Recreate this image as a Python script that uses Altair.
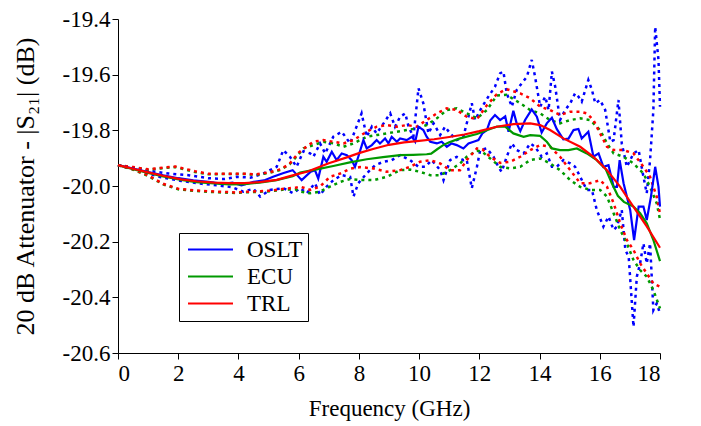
import altair as alt
import pandas as pd

# ---------------- data ----------------
oslt_f = [0, 0.5, 1.0, 1.5, 2.0, 2.5, 3.0, 3.5, 3.8, 4.1, 4.5, 4.85, 5.15, 5.5, 5.8, 6.1, 6.4,
          6.54, 6.65, 6.82, 6.93, 7.10, 7.26, 7.43, 7.60, 7.76, 7.87, 7.98, 8.15, 8.26, 8.43, 8.59,
          8.70, 8.87, 8.98, 9.09, 9.26, 9.37, 9.59, 9.76, 9.87, 9.98, 10.14, 10.25, 10.37, 10.59,
          10.75, 10.92, 11.08, 11.25, 11.47, 11.64, 11.81, 11.97, 12.1, 12.25, 12.36, 12.52, 12.69,
          12.86, 12.97, 13.13, 13.24, 13.36, 13.52, 13.74, 13.91, 14.07, 14.24, 14.41, 14.57, 14.79,
          14.96, 15.13, 15.29, 15.40, 15.62, 15.79, 15.96, 16.12, 16.29, 16.46, 16.57, 16.66, 16.79,
          17.01, 17.14, 17.29, 17.45, 17.56, 17.70, 17.84, 17.95, 18.0]
oslt_v = [-19.925, -19.937, -19.95, -19.962, -19.972, -19.98, -19.985, -19.992, -19.988, -19.998,
          -19.985, -19.98, -19.967, -19.953, -19.943, -19.979, -19.949,
          -19.943, -19.973, -19.895, -19.913, -19.877, -19.907, -19.883, -19.889, -19.907, -19.931,
          -19.895, -19.835, -19.865, -19.853, -19.835, -19.847, -19.829, -19.847, -19.823, -19.841,
          -19.829, -19.835, -19.823, -19.841, -19.787, -19.799, -19.823, -19.841, -19.847, -19.841,
          -19.859, -19.847, -19.853, -19.865, -19.847, -19.841, -19.835, -19.811, -19.799, -19.765,
          -19.745, -19.763, -19.75, -19.805, -19.73, -19.775, -19.803, -19.763, -19.725, -19.751,
          -19.808, -19.775, -19.755, -19.795, -19.832, -19.83, -19.799, -19.795, -19.829, -19.805,
          -19.895, -19.883, -19.931, -19.925, -20.003, -20.003, -19.907, -19.99, -20.086, -20.194,
          -20.074, -20.074, -20.122, -20.038, -19.931, -20.003, -20.074]

oslt_hi_f = [0, 1.0, 1.67, 2.34, 3.0, 3.55, 3.94, 4.4, 4.83, 5.27, 5.49, 5.71, 5.93, 6.16, 6.38,
             6.49, 6.71, 6.88, 7.15, 7.43, 7.71, 8.09, 8.26, 8.43, 8.59, 8.82, 9.04, 9.20, 9.37,
             9.54, 9.65, 9.81, 9.98, 10.14, 10.31, 10.48, 10.70, 10.86, 11.03, 11.25, 11.47, 11.75,
             11.86, 12.03, 12.3, 12.52, 12.69, 12.8, 12.91, 13.08, 13.24, 13.41, 13.58, 13.74, 13.85,
             14.02, 14.19, 14.3, 14.41, 14.52, 14.68, 14.85, 15.02, 15.18, 15.29, 15.40, 15.62,
             15.74, 15.85, 16.01, 16.18, 16.35, 16.46, 16.62, 16.73, 16.90, 17.12, 17.29, 17.45,
             17.56, 17.67, 17.78, 17.84, 17.95, 18.0]
oslt_hi_v = [-19.925, -19.945, -19.955, -19.961, -19.972, -19.975, -19.967, -19.97, -19.955,
             -19.931, -19.871, -19.895, -19.931, -19.875, -19.883, -19.895, -19.847, -19.883,
             -19.823, -19.805, -19.847, -19.739, -19.823, -19.787, -19.811, -19.775, -19.739,
             -19.787, -19.751, -19.739, -19.787, -19.823, -19.649, -19.703, -19.811, -19.775,
             -19.817, -19.787, -19.811, -19.835, -19.823, -19.703, -19.763, -19.727, -19.679,
             -19.643, -19.595, -19.589, -19.667, -19.715, -19.655, -19.631, -19.607, -19.547,
             -19.607, -19.715, -19.679, -19.727, -19.589, -19.643, -19.763, -19.727, -19.703,
             -19.667, -19.679, -19.697, -19.619, -19.655, -19.703, -19.691, -19.727, -19.841,
             -19.835, -19.691, -19.847, -19.931, -19.883, -19.871, -19.967, -20.026, -19.907,
             -19.727, -19.428, -19.547, -19.715]

oslt_lo_f = [0, 1.0, 1.4, 2.1, 2.78, 3.3, 3.78, 4.16, 4.5, 4.72, 5.05, 5.49, 5.82, 6.05, 6.27,
             6.54, 6.71, 6.93, 7.15, 7.43, 7.71, 7.82, 7.98, 8.26, 8.54, 8.82, 9.09, 9.37, 9.70,
             9.98, 10.20, 10.42, 10.70, 10.81, 11.03, 11.25, 11.47, 11.58, 11.75, 11.92, 12.03,
             12.25, 12.47, 12.63, 12.74, 12.91, 13.08, 13.24, 13.47, 13.69, 13.85, 14.07, 14.24,
             14.41, 14.57, 14.79, 15.02, 15.18, 15.35, 15.57, 15.74, 15.9, 16.12, 16.29, 16.46,
             16.57, 16.73, 16.85, 16.96, 17.12, 17.23, 17.34, 17.45, 17.56, 17.67, 17.78, 17.89, 18.0]
oslt_lo_v = [-19.925, -19.955, -19.968, -19.982, -19.992, -19.998, -20.004, -20.02, -20.01,
             -20.038, -20.014, -20.008, -20.026, -20.008, -20.026, -19.99, -20.032, -20.002,
             -19.979, -19.961, -19.967, -20.038, -19.99, -19.955, -19.925, -19.913, -19.907,
             -19.889, -19.907, -19.931, -19.931, -19.907, -19.943, -19.979, -19.907, -19.895,
             -19.907, -19.905, -20.008, -19.931, -19.871, -19.865, -19.895, -19.931, -19.949,
             -19.895, -19.847, -19.871, -19.883, -19.847, -19.859, -19.895, -19.883, -19.931,
             -19.931, -19.907, -19.919, -19.931, -19.967, -20.014, -20.014, -20.086, -20.146,
             -20.11, -20.158, -20.146, -20.086, -20.23, -20.254, -20.506, -20.326, -20.278,
             -20.206, -20.278, -20.206, -20.446, -20.422, -20.458]

ecu_f = [0, 0.5, 1.0, 1.5, 2.1, 2.6, 3.2, 3.7, 4.2, 4.7, 5.27, 5.8, 6.05, 6.6, 7.15, 7.7, 8.26,
         8.8, 9.37, 9.8, 10.25, 10.4, 10.6, 10.8, 11.0, 11.36, 11.92, 12.36, 12.58, 12.86, 13.13,
         13.47, 13.69, 14.02, 14.24, 14.41, 14.68, 14.96, 15.24, 15.57, 15.9, 16.2, 16.4, 16.6,
         16.8, 17.12, 17.34, 17.56, 17.78, 18.0]
ecu_v = [-19.925, -19.94, -19.953, -19.966, -19.978, -19.986, -19.991, -19.994, -19.993, -19.988,
         -19.979, -19.965, -19.952, -19.94, -19.928, -19.915, -19.904, -19.896, -19.889, -19.888,
         -19.886, -19.884, -19.868, -19.853, -19.843, -19.829, -19.813, -19.795, -19.787, -19.787,
         -19.811, -19.823, -19.817, -19.820, -19.841, -19.865, -19.871, -19.871, -19.865, -19.883,
         -19.907, -19.94, -19.99, -20.035, -20.057, -20.074, -20.098, -20.134, -20.194, -20.27]

ecu_hi_f = [0, 0.5, 1.0, 1.5, 1.9, 2.56, 3.0, 3.6, 4.2, 4.6, 5.05, 5.4, 5.7, 6.0, 6.16, 6.49,
            6.82, 7.15, 7.49, 7.82, 8.26, 8.59, 8.93, 9.26, 9.59, 9.92, 10.25, 10.59, 10.92, 11.25,
            11.58, 11.92, 12.25, 12.58, 12.9, 13.36, 13.69, 14.02, 14.35, 14.68, 15.02, 15.35,
            15.68, 16.01, 16.24, 16.46, 16.79, 17.12, 17.45, 17.67, 17.89, 18.0]
ecu_hi_v = [-19.925, -19.933, -19.942, -19.936, -19.932, -19.95, -19.958, -19.957, -19.957,
            -19.96, -19.952, -19.942, -19.922, -19.885, -19.865, -19.853, -19.841, -19.847,
            -19.859, -19.847, -19.823, -19.817, -19.811, -19.805, -19.799, -19.793, -19.781,
            -19.757, -19.727, -19.721, -19.739, -19.757, -19.727, -19.675, -19.672, -19.703,
            -19.727, -19.739, -19.763, -19.775, -19.763, -19.757, -19.763, -19.799, -19.847,
            -19.883, -19.895, -19.919, -19.955, -20.003, -20.062, -20.12]

ecu_lo_f = [0, 0.5, 1.0, 1.5, 2.0, 2.6, 3.2, 3.9, 4.4, 5.05, 5.5, 5.9, 6.05, 6.38, 6.71, 7.04,
            7.38, 7.71, 8.04, 8.48, 8.93, 9.37, 9.70, 10.03, 10.37, 10.70, 11.03, 11.36, 11.58,
            11.92, 12.1, 12.36, 12.69, 13.02, 13.36, 13.69, 14.02, 14.35, 14.68, 15.02, 15.35,
            15.68, 16.01, 16.24, 16.46, 16.68, 16.90, 17.12, 17.34, 17.56, 17.78, 18.0]
ecu_lo_v = [-19.925, -19.941, -19.964, -19.994, -20.012, -20.018, -20.022, -20.025, -20.022,
            -20.019, -20.013, -20.012, -20.02, -20.026, -20.02, -20.002, -19.985, -19.975,
            -19.978, -19.979, -19.967, -19.943, -19.941, -19.949, -19.961, -19.961, -19.943,
            -19.919, -19.895, -19.873, -19.877, -19.901, -19.931, -19.937, -19.931, -19.907,
            -19.901, -19.919, -19.943, -19.979, -20.003, -20.014, -20.014, -20.038, -20.098,
            -20.158, -20.206, -20.266, -20.302, -20.326, -20.374, -20.44]

trl_f = [0, 0.5, 1.0, 1.5, 2.1, 2.6, 3.2, 3.7, 4.2, 4.7, 5.27, 5.8, 6.3, 7.0, 7.6, 8.0, 8.5,
         9.0, 9.5, 10.0, 10.5, 11.0, 11.5, 12.0, 12.58, 13.13, 13.69, 14.02, 14.35, 14.79, 15.35,
         15.79, 16.24, 16.68, 17.12, 17.56, 18.0]
trl_v = [-19.925, -19.938, -19.951, -19.963, -19.976, -19.983, -19.988, -19.99, -19.99, -19.986,
         -19.978, -19.962, -19.948, -19.918, -19.897, -19.882, -19.866, -19.852, -19.843, -19.838,
         -19.832, -19.824, -19.815, -19.803, -19.787, -19.778, -19.775, -19.781, -19.799, -19.829,
         -19.859, -19.895, -19.943, -20.003, -20.075, -20.145, -20.222]

trl_hi_f = [0, 0.5, 1.0, 1.5, 1.9, 2.56, 3.0, 3.6, 4.2, 4.6, 5.05, 5.4, 5.7, 6.0, 6.3, 6.49,
            6.82, 7.15, 7.49, 7.82, 8.26, 8.59, 8.93, 9.26, 9.59, 9.92, 10.25, 10.59, 10.92, 11.25,
            11.58, 11.92, 12.25, 12.58, 12.9, 13.36, 13.69, 14.02, 14.35, 14.68, 15.02, 15.35,
            15.57, 15.79, 16.01, 16.24, 16.46, 16.79, 17.12, 17.45, 17.67, 17.89, 18.0]
trl_hi_v = [-19.925, -19.932, -19.94, -19.934, -19.93, -19.947, -19.956, -19.956, -19.956,
            -19.958, -19.95, -19.94, -19.92, -19.88, -19.855, -19.841, -19.835, -19.841, -19.847,
            -19.835, -19.805, -19.787, -19.781, -19.787, -19.781, -19.787, -19.763, -19.739,
            -19.721, -19.727, -19.751, -19.76, -19.71, -19.67, -19.652, -19.667, -19.685, -19.715,
            -19.727, -19.745, -19.733, -19.733, -19.739, -19.763, -19.811, -19.859, -19.871,
            -19.871, -19.883, -19.931, -19.967, -20.038, -20.1]

trl_lo_f = [0, 0.5, 1.0, 1.5, 2.0, 2.6, 3.2, 3.9, 4.4, 5.05, 5.5, 5.9, 6.05, 6.38, 6.71, 7.04,
            7.38, 7.71, 8.04, 8.48, 8.93, 9.37, 9.70, 10.03, 10.37, 10.70, 11.03, 11.36, 11.58,
            11.92, 12.1, 12.36, 12.69, 13.02, 13.36, 13.69, 14.02, 14.35, 14.68, 15.02, 15.35,
            15.68, 16.01, 16.24, 16.46, 16.68, 16.90, 17.12, 17.34, 17.56, 17.78, 18.0]
trl_lo_v = [-19.925, -19.94, -19.962, -19.992, -20.01, -20.016, -20.02, -20.023, -20.02,
            -20.017, -20.01, -20.006, -20.002, -20.014, -20.002, -19.967, -19.955, -19.938,
            -19.932, -19.937, -19.949, -19.943, -19.931, -19.913, -19.907, -19.919, -19.943,
            -19.943, -19.907, -19.865, -19.868, -19.895, -19.917, -19.913, -19.895, -19.871,
            -19.853, -19.859, -19.895, -19.943, -19.99, -19.99, -19.979, -20.003, -20.062,
            -20.134, -20.194, -20.23, -20.278, -20.314, -20.35, -20.362]

series_names = ["OSLT", "ECU", "TRL"]
series_colors = ["#0000ff", "#009900", "#ff0000"]
x_ticks = [0, 2, 4, 6, 8, 10, 12, 14, 16, 18]
y_ticks = [-20.6, -20.4, -20.2, -20.0, -19.8, -19.6, -19.4]

# ---------------- table ----------------
rows = []
def add(name, kind, fs, vs):
    for f, v in zip(fs, vs):
        rows.append({"f": f, "v": v, "series": name, "kind": kind, "key": name + "_" + kind})

add("OSLT", "nom", oslt_f, oslt_v)
add("OSLT", "hi", oslt_hi_f, oslt_hi_v)
add("OSLT", "lo", oslt_lo_f, oslt_lo_v)
add("ECU", "nom", ecu_f, ecu_v)
add("ECU", "hi", ecu_hi_f, ecu_hi_v)
add("ECU", "lo", ecu_lo_f, ecu_lo_v)
add("TRL", "nom", trl_f, trl_v)
add("TRL", "hi", trl_hi_f, trl_hi_v)
add("TRL", "lo", trl_lo_f, trl_lo_v)
df = pd.DataFrame(rows)

FONT = "Liberation Serif"

x_enc = alt.X("f:Q", scale=alt.Scale(domain=[0, 18], nice=False),
              axis=alt.Axis(values=x_ticks, title="Frequency (GHz)", format="d",
                            labelPadding=3, titlePadding=12, titleFontSize=23))
y_enc = alt.Y("v:Q", scale=alt.Scale(domain=[-20.6, -19.4], nice=False, zero=False),
              axis=alt.Axis(values=y_ticks, title="20 dB Attenuator - |S\u2082\u2081| (dB)",
                            labelExpr="replace(format(datum.value, '.1f'), '\u2212', '-')",
                            labelPadding=2, titlePadding=24, titleFontSize=26))
color_scale = alt.Scale(domain=series_names, range=series_colors)

legend = alt.Legend(
    title=None, orient="none", legendX=61, legendY=214,
    strokeColor="black", fillColor="white", padding=5, cornerRadius=0,
    symbolType="M-1,0H5", symbolSize=225, symbolStrokeWidth=2,
    symbolFillColor="transparent",
    labelFont=FONT, labelFontSize=23, labelColor="black", labelOffset=40, rowPadding=3,
)

base = alt.Chart(df)

dashed = base.transform_filter(alt.datum.kind != "nom").mark_line(
    strokeDash=[3, 4], strokeWidth=2.5
).encode(
    x=x_enc, y=y_enc,
    color=alt.Color("series:N", scale=color_scale, legend=None),
    detail="key:N",
    order="f:Q",
)

solids = base.transform_filter(alt.datum.kind == "nom").mark_line(strokeWidth=2.2).encode(
    x=x_enc, y=y_enc,
    color=alt.Color("series:N", scale=color_scale, sort=series_names, legend=legend),
    detail="series:N",
    order="f:Q",
)

chart = alt.layer(dashed, solids).resolve_legend(color="independent").properties(
    width=542, height=334,
    autosize=alt.AutoSizeParams(type="none"),
    padding={"left": 118, "top": 19, "right": 41, "bottom": 73},
).configure_view(stroke=None).configure_axis(
    grid=False, domainColor="black", tickColor="black", labelColor="black", titleColor="black",
    labelFont=FONT, titleFont=FONT, labelFontSize=23, titleFontWeight="normal",
    tickSize=6, domainWidth=1, tickWidth=1,
)

chart.save("out.html", embed_options={"renderer": "svg", "actions": False})
